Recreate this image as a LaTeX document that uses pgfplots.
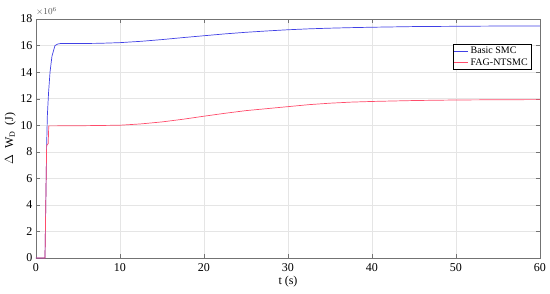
\documentclass[border=0pt]{standalone}
\usepackage{fontspec}
\setmainfont{Liberation Serif}
\usepackage{pgfplots}
\pgfplotsset{compat=1.18}
\definecolor{smcblue}{rgb}{0.25,0.25,0.9}
\definecolor{ntsmcred}{rgb}{1,0.3,0.42}
\definecolor{axgray}{rgb}{0.45,0.45,0.45}

\begin{document}
\begin{tikzpicture}
\useasboundingbox (-36pt,-35pt) rectangle (514pt,258pt);
\begin{axis}[
  at={(0,0)}, anchor=south west,
  width=504pt, height=239pt,
  scale only axis,
  xmin=0, xmax=60, ymin=0, ymax=18,
  xtick={0,10,...,60}, ytick={0,2,...,18},
  scaled y ticks=false,
  grid=major,
  major grid style={gray!20, line width=0.5pt},
  axis line style={axgray},
  tick style={axgray},
  tick align=inside,
  major tick length=4pt,
  ticklabel style={font=\fontsize{12}{14}\selectfont},
  xticklabel style={yshift=-2pt},
  /pgf/number format/assume math mode=true,
  xlabel={t (s)},
  ylabel={$\Delta$\ \ W$_{\mathrm{D}}$\ \ (J)},
  label style={font=\fontsize{12}{14}\selectfont},
  xlabel style={yshift=2pt},
  ylabel style={yshift=-2pt},
  legend style={at={(0.982,0.895)}, anchor=north east, font=\fontsize{10}{11}\selectfont,
    draw=black, line width=0.4pt, inner sep=1pt, row sep=-1pt},
  legend cell align=left,
  legend image code/.code={\draw[#1, line width=0.7pt] (0pt,0pt) -- (14pt,0pt);},
]
\addplot[smcblue, line width=0.7pt] coordinates {
  (0,0) (1.07,0) (1.27,8.5) (1.35,10.7) (1.5,12.5) (1.67,14) (1.9,15.2) (2.26,16) (2.6,16.12) (2.9,16.15)
  (5,16.15) (7.6,16.17) (10,16.22) (12.5,16.32) (15,16.45) (17.5,16.6) (20,16.74)
  (22.5,16.88) (25,17.0) (27.5,17.1) (30,17.19) (32.5,17.26) (35,17.31) (37.5,17.35) (40,17.38)
  (45,17.43) (50,17.45) (55,17.47) (60,17.48)
};
\addlegendentry{Basic SMC}
\addplot[ntsmcred, line width=0.7pt] coordinates {
  (0,0) (1.07,0) (1.27,8.5) (1.45,8.6) (1.52,9.95) (5,9.96) (10,10.0) (12.5,10.1) (15,10.25)
  (17.5,10.45) (20,10.68) (22.5,10.9) (25,11.1) (27.5,11.25) (30,11.4) (32.5,11.55)
  (35,11.66) (37.5,11.74) (40,11.79) (45,11.86) (50,11.9) (55,11.92) (60,11.93)
};
\addlegendentry{FAG-NTSMC}
\end{axis}
\node[anchor=south west, inner sep=0pt, font=\fontsize{9}{10}\selectfont, text=axgray!70!black] at (0pt,242pt) {$\times 10^{6}$};
\end{tikzpicture}
\end{document}
